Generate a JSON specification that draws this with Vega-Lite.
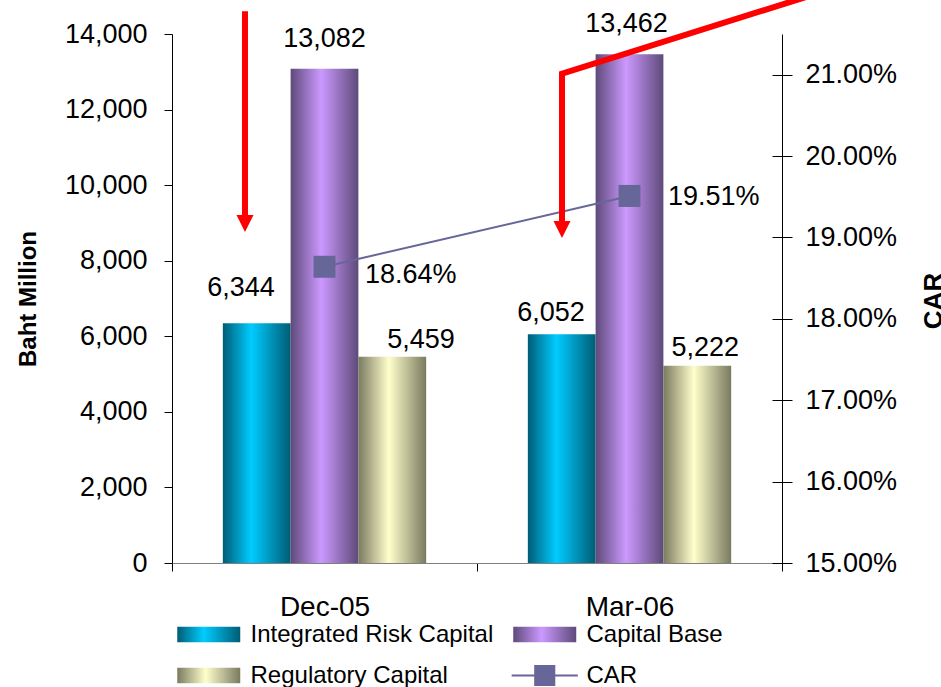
{
  "$schema": "https://vega.github.io/schema/vega-lite/v6.json",
  "width": 610,
  "height": 529,
  "autosize": "none",
  "padding": {"left": 172, "top": 34, "right": 159, "bottom": 124},
  "background": "white",
  "config": {"font": "Liberation Sans", "view": {"stroke": null}},
  "datasets": {
    "bars": [
      {"date": "Dec-05", "series": "Integrated Risk Capital", "value": 6344},
      {"date": "Dec-05", "series": "Capital Base", "value": 13082},
      {"date": "Dec-05", "series": "Regulatory Capital", "value": 5459},
      {"date": "Mar-06", "series": "Integrated Risk Capital", "value": 6052},
      {"date": "Mar-06", "series": "Capital Base", "value": 13462},
      {"date": "Mar-06", "series": "Regulatory Capital", "value": 5222}
    ],
    "car": [
      {"date": "Dec-05", "car": 0.1864},
      {"date": "Mar-06", "car": 0.1951}
    ],
    "arrows": [
      {"kind": "line", "seg": "a1", "i": 0, "ax": 0.2393, "ay": 14600},
      {"kind": "line", "seg": "a1", "i": 1, "ax": 0.2393, "ay": 9050},
      {"kind": "line", "seg": "a2", "i": 0, "ax": 2.6, "ay": 16300},
      {"kind": "line", "seg": "a2", "i": 1, "ax": 1.2787, "ay": 12950},
      {"kind": "line", "seg": "a2", "i": 2, "ax": 1.2787, "ay": 8900},
      {"kind": "head", "seg": "a1", "i": 2, "ax": 0.2393, "ay": 8984},
      {"kind": "head", "seg": "a2", "i": 3, "ax": 1.2787, "ay": 8825}
    ],
    "series": [
      {"series": "Integrated Risk Capital"},
      {"series": "Capital Base"},
      {"series": "Regulatory Capital"},
      {"series": "CAR"}
    ]
  },
  "layer": [
    {
      "data": {"name": "bars"},
      "encoding": {
        "x": {
          "field": "date", "type": "nominal",
          "scale": {"domain": ["Dec-05", "Mar-06"], "paddingInner": 0, "paddingOuter": 0},
          "axis": {"title": null, "labelFontSize": 28, "labelColor": "black", "labelPadding": 22, "labelAngle": 0, "tickSize": 8, "tickColor": "black", "tickBand": "extent", "domainColor": "#808080", "grid": false}
        },
        "xOffset": {
          "field": "series", "type": "nominal",
          "scale": {"domain": ["Integrated Risk Capital", "Capital Base", "Regulatory Capital"], "paddingInner": 0, "paddingOuter": 0.75}
        },
        "y": {
          "field": "value", "type": "quantitative",
          "scale": {"domain": [0, 14000], "nice": false},
          "axis": {"values": [0, 2000, 4000, 6000, 8000, 10000, 12000, 14000], "format": ",.0f", "labelFontSize": 27, "labelColor": "black", "labelPadding": 17, "tickSize": 8, "tickColor": "black", "domainColor": "black", "grid": false, "title": "Baht Million", "titleFontSize": 24, "titleFontWeight": "bold", "titleColor": "black", "titleAngle": 270, "titleX": -137, "titleY": 264.5, "titleAlign": "center", "titleBaseline": "alphabetic"}
        }
      },
      "layer": [
        {
          "transform": [{"filter": "datum.series === 'Integrated Risk Capital'"}],
          "mark": {"type": "bar", "color": {"gradient": "linear", "x1": 0, "y1": 0, "x2": 1, "y2": 0, "stops": [{"offset": 0, "color": "#005C75"}, {"offset": 0.42, "color": "#00CCFF"}, {"offset": 1, "color": "#005C75"}]}}
        },
        {
          "transform": [{"filter": "datum.series === 'Capital Base'"}],
          "mark": {"type": "bar", "color": {"gradient": "linear", "x1": 0, "y1": 0, "x2": 1, "y2": 0, "stops": [{"offset": 0, "color": "#5E4A7A"}, {"offset": 0.45, "color": "#CC99FF"}, {"offset": 1, "color": "#5E4A7A"}]}}
        },
        {
          "transform": [{"filter": "datum.series === 'Regulatory Capital'"}],
          "mark": {"type": "bar", "color": {"gradient": "linear", "x1": 0, "y1": 0, "x2": 1, "y2": 0, "stops": [{"offset": 0, "color": "#7A7A60"}, {"offset": 0.45, "color": "#FFFFCC"}, {"offset": 1, "color": "#7A7A60"}]}}
        },
        {
          "transform": [{"filter": "datum.series === 'Integrated Risk Capital' && datum.date === 'Dec-05'"}],
          "mark": {"type": "text", "fontSize": 27, "color": "black", "baseline": "alphabetic", "align": "center", "dx": -15.7, "dy": -27},
          "encoding": {"text": {"field": "value", "format": ","}}
        },
        {
          "transform": [{"filter": "datum.series === 'Capital Base' && datum.date === 'Dec-05'"}],
          "mark": {"type": "text", "fontSize": 27, "color": "black", "baseline": "alphabetic", "align": "center", "dx": 0, "dy": -22},
          "encoding": {"text": {"field": "value", "format": ","}}
        },
        {
          "transform": [{"filter": "datum.series === 'Regulatory Capital' && datum.date === 'Dec-05'"}],
          "mark": {"type": "text", "fontSize": 27, "color": "black", "baseline": "alphabetic", "align": "center", "dx": 28.7, "dy": -9},
          "encoding": {"text": {"field": "value", "format": ","}}
        },
        {
          "transform": [{"filter": "datum.series === 'Integrated Risk Capital' && datum.date === 'Mar-06'"}],
          "mark": {"type": "text", "fontSize": 27, "color": "black", "baseline": "alphabetic", "align": "center", "dx": -10.7, "dy": -13},
          "encoding": {"text": {"field": "value", "format": ","}}
        },
        {
          "transform": [{"filter": "datum.series === 'Capital Base' && datum.date === 'Mar-06'"}],
          "mark": {"type": "text", "fontSize": 27, "color": "black", "baseline": "alphabetic", "align": "center", "dx": -3, "dy": -22},
          "encoding": {"text": {"field": "value", "format": ","}}
        },
        {
          "transform": [{"filter": "datum.series === 'Regulatory Capital' && datum.date === 'Mar-06'"}],
          "mark": {"type": "text", "fontSize": 27, "color": "black", "baseline": "alphabetic", "align": "center", "dx": 8, "dy": -10},
          "encoding": {"text": {"field": "value", "format": ","}}
        }
      ]
    },
    {
      "data": {"name": "car"},
      "encoding": {
        "x": {"field": "date", "type": "nominal", "scale": {"domain": ["Dec-05", "Mar-06"]}, "axis": null},
        "y": {
          "field": "car", "type": "quantitative",
          "scale": {"domain": [0.15, 0.215], "nice": false, "zero": false},
          "axis": {"orient": "right", "values": [0.15, 0.16, 0.17, 0.18, 0.19, 0.2, 0.21], "format": ".2%", "labelFontSize": 27, "labelColor": "black", "labelPadding": 13, "tickSize": 10, "tickColor": "black", "domainColor": "black", "grid": false, "title": "CAR", "titleFontSize": 26, "titleFontWeight": "bold", "titleColor": "black", "titleAngle": 270, "titleX": 159.6, "titleY": 266.5, "titleAlign": "center", "titleBaseline": "alphabetic"}
        }
      },
      "layer": [
        {"mark": {"type": "line", "color": "#666699", "strokeWidth": 2}},
        {"mark": {"type": "point", "shape": "square", "size": 484, "filled": true, "opacity": 1, "color": "#666699"}},
        {
          "transform": [{"filter": "datum.date === 'Dec-05'"}],
          "mark": {"type": "text", "fontSize": 27, "color": "black", "align": "left", "baseline": "alphabetic", "dx": 40.5, "dy": 16},
          "encoding": {"text": {"field": "car", "format": ".2%"}}
        },
        {
          "transform": [{"filter": "datum.date === 'Mar-06'"}],
          "mark": {"type": "text", "fontSize": 27, "color": "black", "align": "left", "baseline": "alphabetic", "dx": 38.5, "dy": 9},
          "encoding": {"text": {"field": "car", "format": ".2%"}}
        }
      ]
    },
    {
      "data": {"name": "car"},
      "mark": {"type": "point", "opacity": 0},
      "encoding": {
        "y": {
          "field": "car", "type": "quantitative",
          "scale": {"domain": [0.15, 0.215], "nice": false, "zero": false},
          "axis": {"orient": "right", "offset": -10, "values": [0.15, 0.16, 0.17, 0.18, 0.19, 0.2, 0.21], "labels": false, "domain": false, "tickSize": 10, "tickColor": "black", "title": null, "grid": false}
        }
      }
    },
    {
      "data": {"name": "arrows"},
      "encoding": {
        "x": {"field": "ax", "type": "quantitative", "scale": {"domain": [0, 2], "nice": false, "zero": false}, "axis": null},
        "y": {"field": "ay", "type": "quantitative", "scale": {"domain": [0, 14000], "nice": false}, "axis": null}
      },
      "layer": [
        {
          "transform": [{"filter": "datum.kind === 'line'"}],
          "mark": {"type": "line", "color": "#FF0000", "strokeWidth": 6, "strokeJoin": "miter"},
          "encoding": {"detail": {"field": "seg"}, "order": {"field": "i", "type": "quantitative"}}
        },
        {
          "transform": [{"filter": "datum.kind === 'head'"}],
          "mark": {"type": "point", "shape": "M-1,-1L1,-1L0,1Z", "size": 289, "filled": true, "opacity": 1, "color": "#FF0000"}
        }
      ]
    },
    {
      "data": {"name": "series"},
      "mark": {"type": "point", "opacity": 0, "filled": true, "size": 992},
      "encoding": {
        "shape": {
          "field": "series", "type": "nominal",
          "scale": {"domain": ["Integrated Risk Capital", "Regulatory Capital", "Capital Base", "CAR"], "range": ["M-2,-0.5H2V0.5H-2Z", "M-2,-0.5H2V0.5H-2Z", "M-2,-0.5H2V0.5H-2Z", "M-2.1,-0.065H2.1V0.065H-2.1Z M-0.67,-0.67H0.67V0.67H-0.67Z"]},
          "legend": {
            "orient": "none", "legendX": 20.75, "legendY": 584.5, "columns": 2, "title": null, "padding": 0,
            "symbolSize": 992, "symbolStrokeWidth": 0,
            "labelOffset": 25.75, "columnPadding": 17, "rowPadding": 13,
            "labelFontSize": 24, "labelColor": "black", "labelLimit": 0,
            "encoding": {
              "symbols": {
                "fill": {"value": {"expr": "datum.value === 'Integrated Risk Capital' ? {gradient: 'linear', x1: 0, y1: 0, x2: 1, y2: 0, stops: [{offset: 0, color: '#005C75'}, {offset: 0.42, color: '#00CCFF'}, {offset: 1, color: '#005C75'}]} : datum.value === 'Capital Base' ? {gradient: 'linear', x1: 0, y1: 0, x2: 1, y2: 0, stops: [{offset: 0, color: '#5E4A7A'}, {offset: 0.45, color: '#CC99FF'}, {offset: 1, color: '#5E4A7A'}]} : datum.value === 'Regulatory Capital' ? {gradient: 'linear', x1: 0, y1: 0, x2: 1, y2: 0, stops: [{offset: 0, color: '#7A7A60'}, {offset: 0.45, color: '#FFFFCC'}, {offset: 1, color: '#7A7A60'}]} : '#666699'"}},
                "opacity": {"value": 1},
                "fillOpacity": {"value": 1},
                "strokeWidth": {"value": 0},
                "size": {"value": 992}
              }
            }
          }
        }
      }
    }
  ],
  "resolve": {"scale": {"x": "independent", "y": "independent"}}
}
